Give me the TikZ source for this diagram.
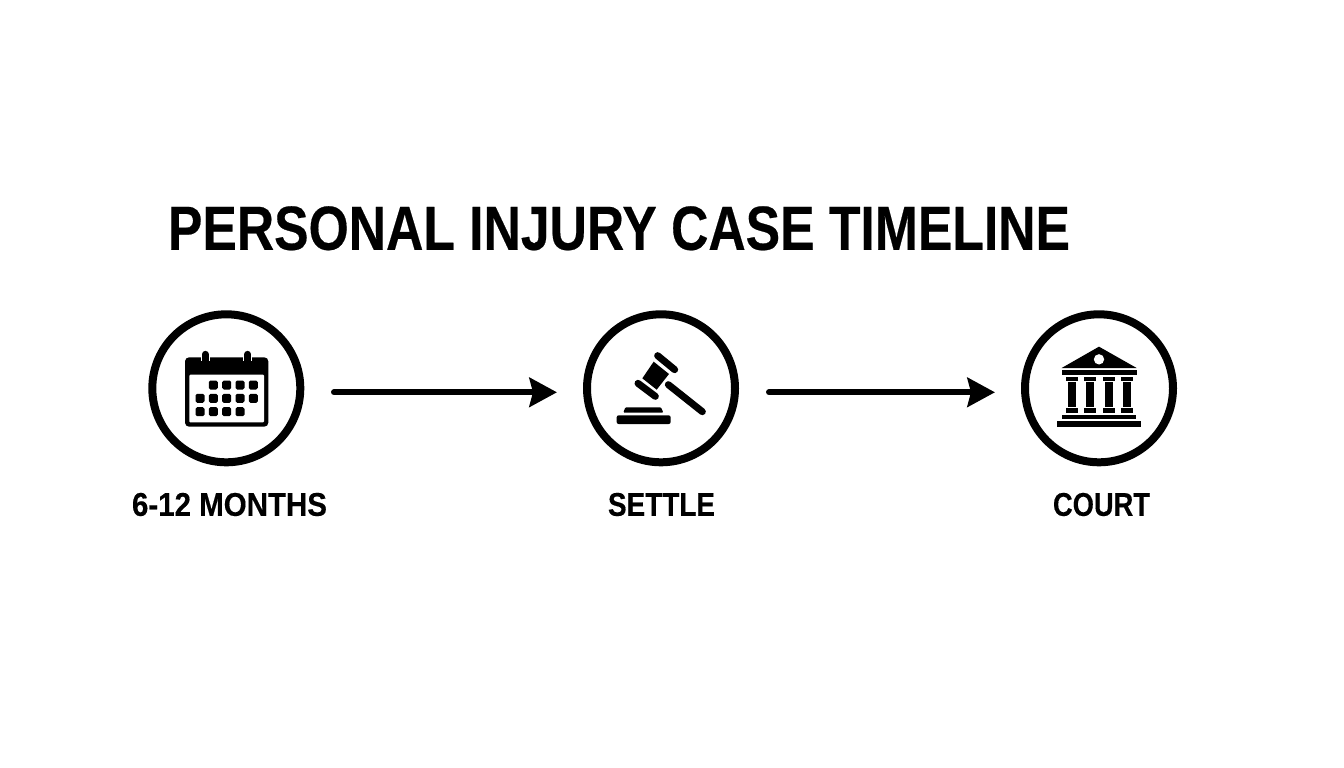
\documentclass[tikz,border=0pt]{standalone}
\usepackage{fontspec}
\setmainfont{Liberation Sans}[BoldFont={Liberation Sans Bold},BoldFeatures={FakeBold=0.35}]
\usetikzlibrary{arrows.meta}
\tikzset{
  txt/.style={inner sep=0pt,outer sep=0pt,font=\bfseries,text=black},
  ring/.style={circle,draw=black,line width=8pt,minimum size=148pt,inner sep=0pt,outer sep=0pt},
  flow/.style={line width=6pt,line cap=round,black,-{Stealth[length=27.5pt,width=29pt,inset=3.5pt]}},
  cell/.style={fill=black,rounded corners=1.6pt},
}
\newcommand{\calcell}[2]{\path[cell] (#1-13.5,#2-13.5) rectangle (#1+13.5,#2+13.5);}
\newcommand{\pillar}[1]{%
  \fill (#1-18,232) rectangle (#1+18,244);
  \fill (#1-12,246) rectangle (#1+12,322);
  \fill (#1-18,325) rectangle (#1+18,339);}
\begin{document}
\begin{tikzpicture}[x=1pt,y=-1pt]
\useasboundingbox (0,0) rectangle (1344,768);
\fill[white] (0,0) rectangle (1344,768);
\node[txt] (title) at (619,228.3) {\resizebox{902pt}{43.5pt}{PERSONAL INJURY CASE TIMELINE}};
\node[ring] (cal) at (226.3,388.3) {};
\node[ring] (gavel) at (661,388.3) {};
\node[ring] (court) at (1099,388.3) {};
\node[txt] (lcal) at (229.5,504.5) {\resizebox{195pt}{23pt}{6-12 MONTHS}};
\node[txt] (lgavel) at (661.5,504.5) {\resizebox{107pt}{23pt}{SETTLE}};
\node[txt] (lcourt) at (1101.5,504.5) {\resizebox{97pt}{23pt}{COURT}};
\coordinate (a1s) at (334,392.3);
\coordinate (a1e) at (557,392.3);
\coordinate (a2s) at (769,392.3);
\coordinate (a2e) at (995,392.3);
\draw[flow] (a1s) -- (a1e);
\draw[flow] (a2s) -- (a2e);
% calendar
\begin{scope}[shift={(140,300)},scale=1/3]
  \fill[rounded corners=4pt] (135,172) rectangle (385,380);
  \fill[white,rounded corners=1pt] (148,224) rectangle (372,367);
  \foreach \q in {196,323}{
    \draw[white,line width=9.5pt] (\q,172) -- (\q,183);
    \draw[black,line width=7pt,line cap=round] (\q,163) -- (\q,190);
  }
  \foreach \q in {220,260,300,340}{\calcell{\q}{255}}
  \foreach \q in {180,220,260,300,340}{\calcell{\q}{295}}
  \foreach \q in {180,220,260,300}{\calcell{\q}{335}}
\end{scope}
% gavel
\begin{scope}[shift={(575,300)},scale=1/3]
  \draw[line width=7pt,line cap=round] (248,167) -- (299,209);
  \draw[line width=7pt,line cap=round] (189,250) -- (241,289);
  \fill (236,185) -- (282,222) -- (245,269) -- (202,235) -- cycle;
  \draw[line width=7pt,line cap=round] (280,254) -- (382,335);
  \fill[rounded corners=1pt] (151,322) -- (258,322) -- (265,338) -- (145,338) -- cycle;
  \fill[rounded corners=2pt] (125,346) rectangle (287,372);
\end{scope}
% courthouse
\begin{scope}[shift={(1015,300)},scale=1/3]
  \fill (252,140) -- (365,204) -- (140,204) -- cycle;
  \fill[white] (252,178) circle (15.5);
  \fill (140,210) rectangle (367,225);
  \pillar{170}\pillar{225}\pillar{281}\pillar{337}
  \fill (140,344) rectangle (364,358);
  \fill (127,364) rectangle (377,380);
\end{scope}
\end{tikzpicture}
\end{document}
